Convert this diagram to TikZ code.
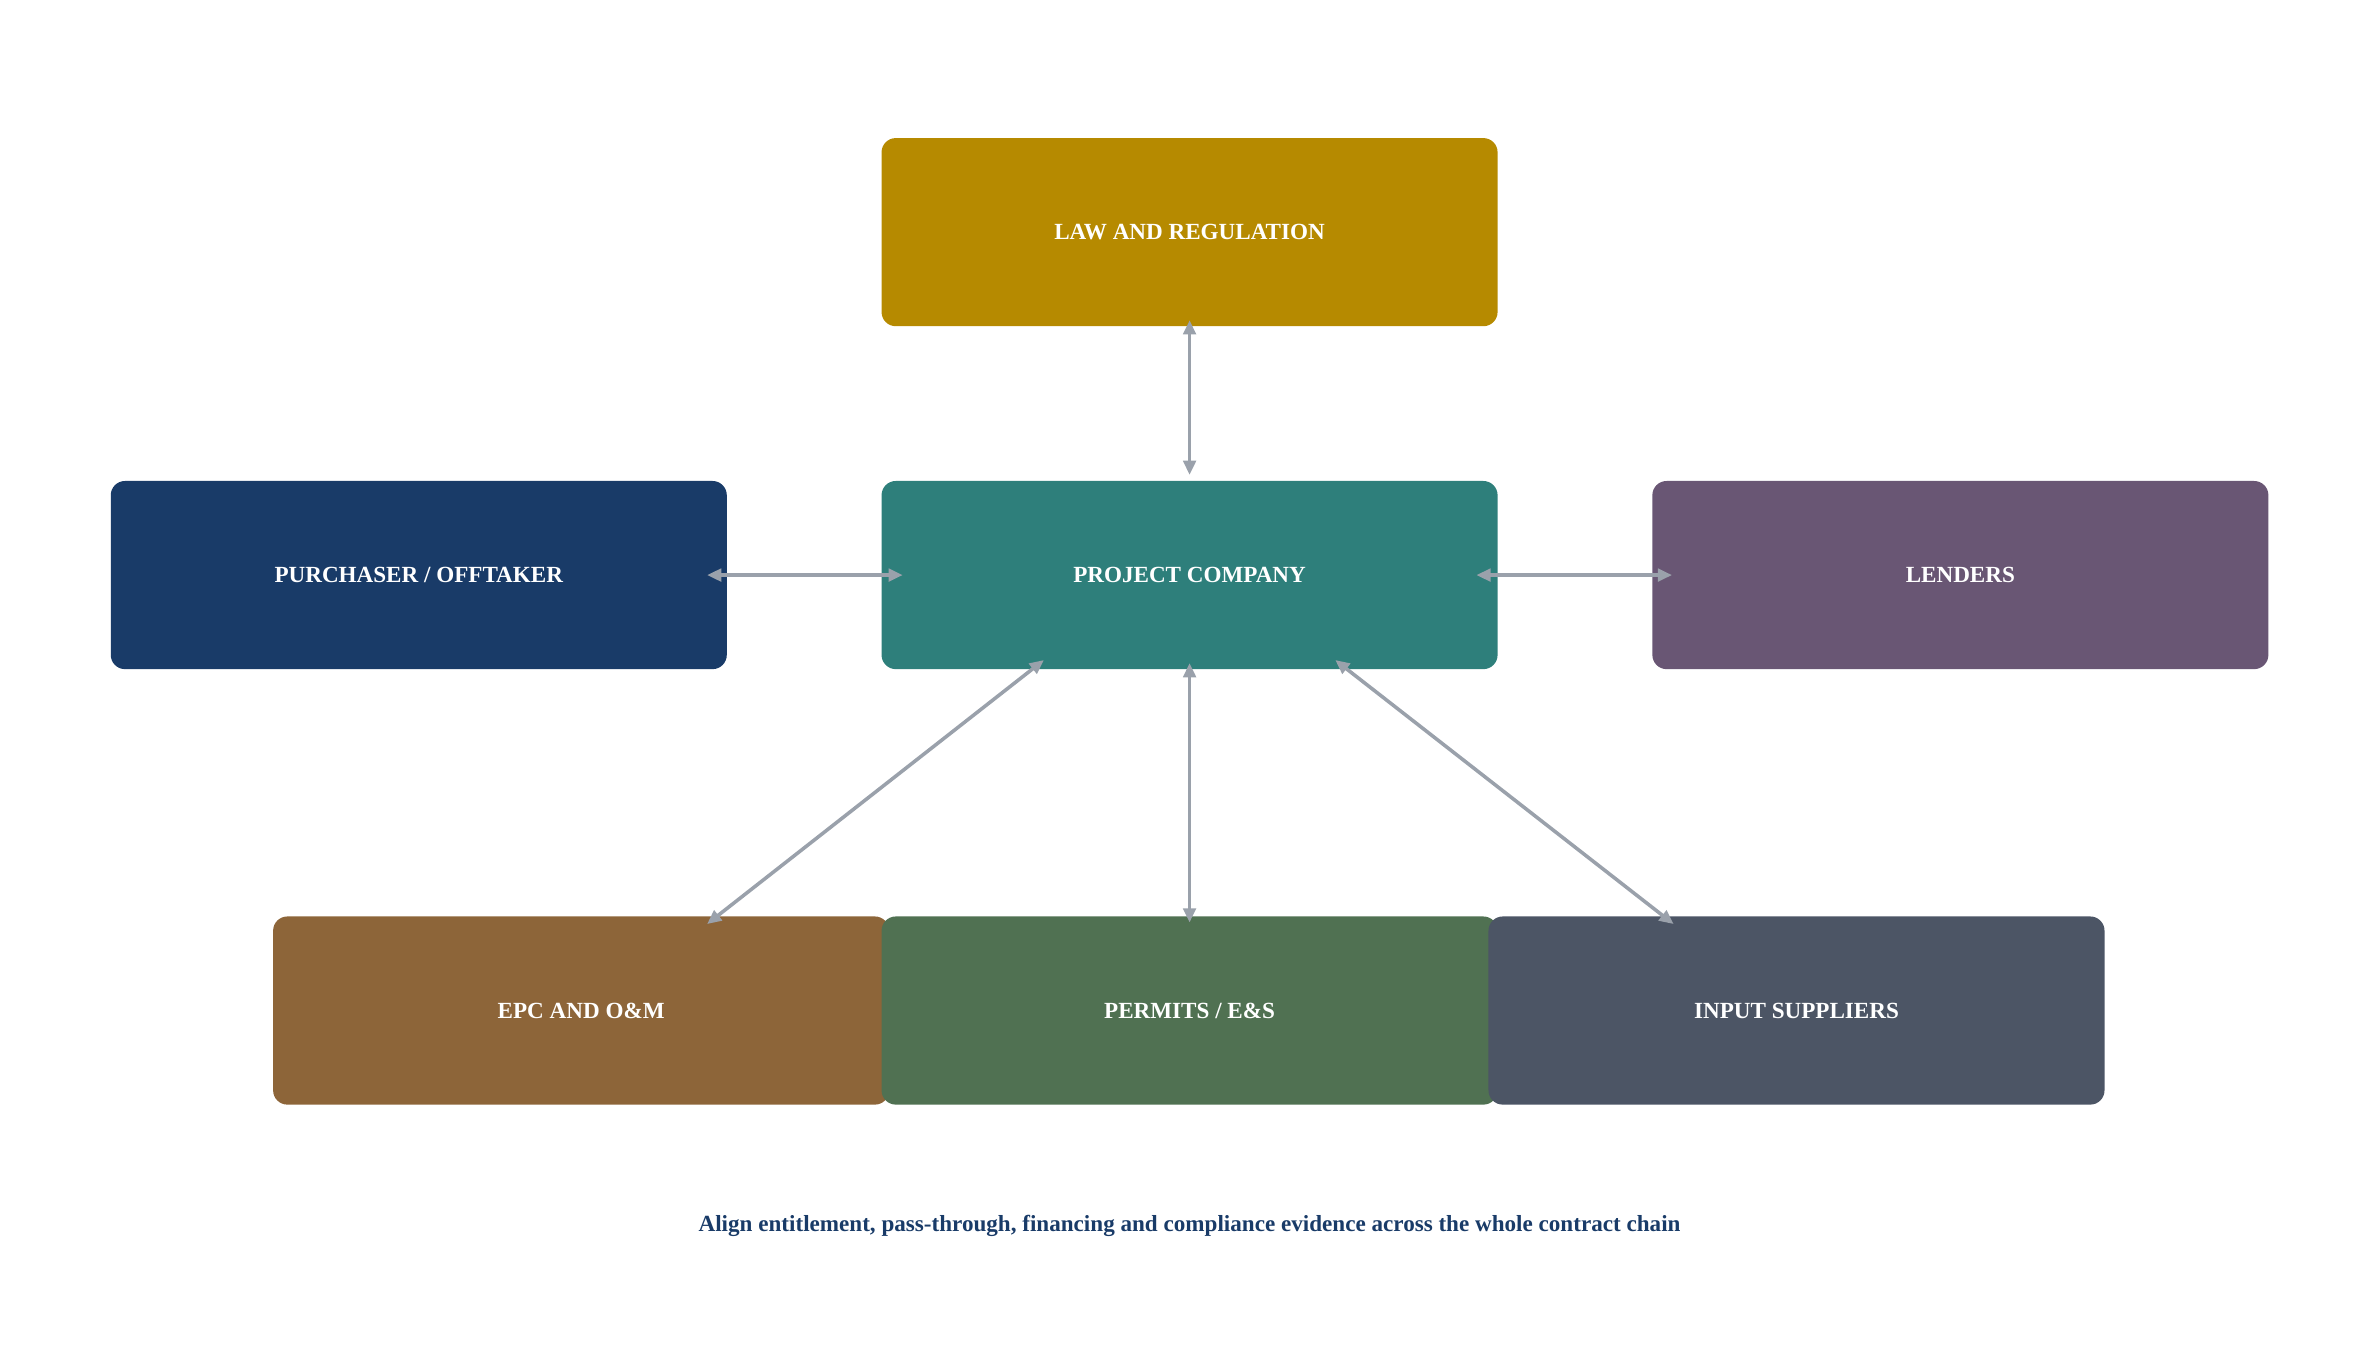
\documentclass[tikz,border=0pt]{standalone}
\usepackage{fontspec}
\setmainfont{Liberation Serif}
\usetikzlibrary{arrows.meta}
\begin{document}
\begin{tikzpicture}[x=0.03cm,y=-0.03cm,
box/.style={rounded corners=8pt,minimum width=406*0.03cm,minimum height=124*0.03cm,inner sep=0pt,text=white,font=\bfseries\fontsize{13}{15}\selectfont},
conn/.style={draw=arrowgray,line width=2pt,{Triangle[length=8pt,width=7pt]}-{Triangle[length=8pt,width=7pt]}}]
\definecolor{arrowgray}{HTML}{9AA1AB}
\useasboundingbox (0,0) rectangle (1560,893);
\node[box,fill={rgb,255:red,182;green,138;blue,0}] (law) at (784,153) {LAW AND REGULATION};
\node[box,fill={rgb,255:red,46;green,127;blue,123}] (pc) at (784,379) {PROJECT COMPANY};
\node[box,fill={rgb,255:red,25;green,59;blue,104}] (pur) at (276,379) {PURCHASER / OFFTAKER};
\node[box,fill={rgb,255:red,105;green,86;blue,116}] (len) at (1292,379) {LENDERS};
\node[box,fill={rgb,255:red,141;green,101;blue,57}] (epc) at (383,666) {EPC AND O\&M};
\node[box,fill={rgb,255:red,80;green,113;blue,82}] (per) at (784,666) {PERMITS / E\&S};
\node[box,fill={rgb,255:red,76;green,85;blue,101}] (inp) at (1184,666) {INPUT SUPPLIERS};
\node[text={rgb,255:red,25;green,59;blue,104},font=\bfseries\fontsize{13}{15}\selectfont] (cap) at (784,808) {Align entitlement, pass-through, financing and compliance evidence across the whole contract chain};
\coordinate (a1) at (784,211); \coordinate (a2) at (784,313);
\coordinate (b1) at (466,379); \coordinate (b2) at (595,379);
\coordinate (c1) at (973,379); \coordinate (c2) at (1102,379);
\coordinate (d1) at (688,435); \coordinate (d2) at (466,609);
\coordinate (e1) at (784,437); \coordinate (e2) at (784,608);
\coordinate (f1) at (880,435); \coordinate (f2) at (1103,609);
\draw[conn] (a1) -- (a2);
\draw[conn] (b1) -- (b2);
\draw[conn] (c1) -- (c2);
\draw[conn] (d1) -- (d2);
\draw[conn] (e1) -- (e2);
\draw[conn] (f1) -- (f2);
\end{tikzpicture}
\end{document}
